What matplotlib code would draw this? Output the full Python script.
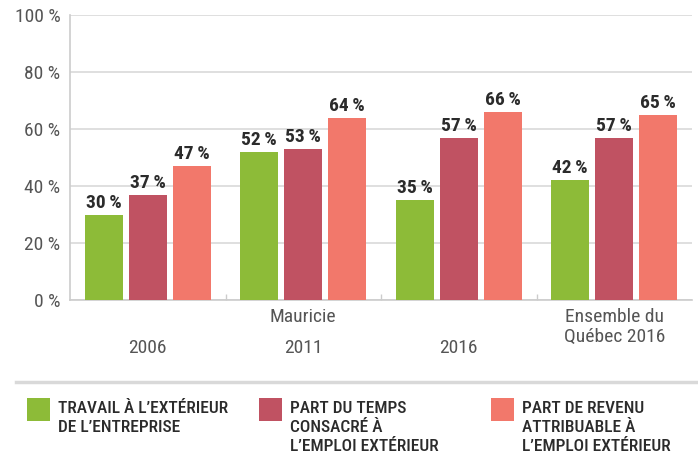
import matplotlib
matplotlib.use("Agg")
import matplotlib.pyplot as plt
from matplotlib import font_manager as fm
import numpy as np

names = {f.name for f in fm.fontManager.ttflist}
FONT = "DejaVu Sans"
for cand in ["Roboto Condensed", "Archivo Narrow", "PT Sans Narrow", "Liberation Sans Narrow",
             "Arial Narrow", "Fira Sans Condensed", "Asap Condensed", "Barlow Condensed",
             "Encode Sans Condensed", "IBM Plex Sans Condensed", "Open Sans Condensed"]:
    if cand in names:
        FONT = cand
        break
plt.rcParams["font.family"] = [FONT, "DejaVu Sans"]

groups = ["2006", "2011", "2016", "Ensemble du\nQuébec 2016"]
series_names = ["TRAVAIL À L’EXTÉRIEUR\nDE L’ENTREPRISE",
                "PART DU TEMPS\nCONSACRÉ À\nL’EMPLOI EXTÉRIEUR",
                "PART DE REVENU\nATTRIBUABLE À\nL’EMPLOI EXTÉRIEUR"]
travail = [30, 52, 35, 42]
temps = [37, 53, 57, 57]
revenu = [47, 64, 66, 65]
yticks = [0, 20, 40, 60, 80, 100]
colors = ["#8DBB38", "#C05262", "#F2786B"]

W, H = 698, 461
fig = plt.figure(figsize=(W / 100, H / 100), dpi=100)
ax = fig.add_axes([70 / W, (H - 300) / H, 622 / W, 285 / H])

x = np.arange(len(groups))
bw = 38 / 155.5
step = 44 / 155.5
for i, (vals, c) in enumerate(zip([travail, temps, revenu], colors)):
    pos = x + (i - 1) * step
    ax.bar(pos, vals, width=bw, color=c, zorder=3)
    for p, v in zip(pos, vals):
        ax.text(p, v + 1.0, f"{v}\u2009%", ha="center", va="bottom",
                fontsize=14, fontweight="bold", color="#2b2b2b", zorder=4)

ax.set_xlim(-0.5, 3.5)
ax.set_ylim(0, 100)
ax.set_yticks(yticks)
ax.set_yticklabels([f"{t} %" for t in yticks], fontsize=14, color="#555555")
ax.yaxis.grid(True, color="#d9d9d9", linewidth=1.2, zorder=0)
ax.tick_params(axis="y", length=0, pad=7)
ax.set_xticks([0.5, 1.5, 2.5])
ax.set_xticklabels([])
ax.tick_params(axis="x", direction="in", length=4, color="#cccccc", width=1)
for s in ["top", "right"]:
    ax.spines[s].set_visible(False)
for s in ["left", "bottom"]:
    ax.spines[s].set_color("#cccccc")
    ax.spines[s].set_linewidth(1.2)

# category labels
for xi, g in zip(x, groups):
    if "\n" in g:
        ax.text(xi, -2.8, g, ha="center", va="top", fontsize=14, color="#555555",
                linespacing=1.15, clip_on=False)
    else:
        ax.text(xi, -13.8, g, ha="center", va="top", fontsize=14, color="#555555",
                clip_on=False)
ax.text(1, -2.8, "Mauricie", ha="center", va="top", fontsize=14, color="#555555",
        clip_on=False)

# separator line
fig.add_artist(plt.Line2D([16 / W, 1.0], [(H - 382) / H] * 2, color="#d9d9d9",
                          linewidth=2.5))

# legend
lx = [27, 259, 491]
for xx, c, name in zip(lx, colors, series_names):
    fig.add_artist(plt.Rectangle((xx / W, (H - 421) / H), 23 / W, 23 / H,
                                 color=c, transform=fig.transFigure, lw=0))
    fig.text((xx + 31) / W, (H - 401) / H, name, ha="left", va="top",
             fontsize=12.5, fontweight="medium", color="#2b2b2b", linespacing=1.35)

fig.savefig("out.png", dpi=100)
